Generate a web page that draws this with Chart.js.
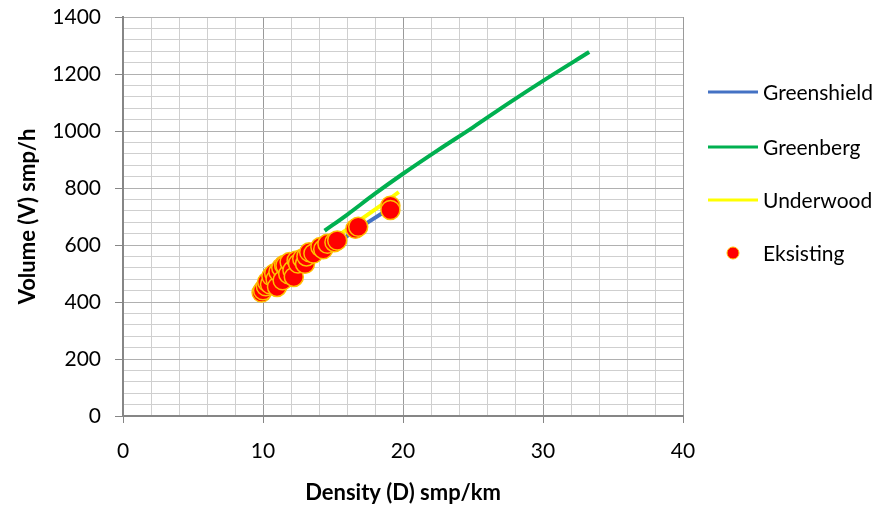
<!DOCTYPE html>
<html>
<head>
<meta charset="utf-8">
<script src="https://cdn.jsdelivr.net/npm/chart.js@4.4.0/dist/chart.umd.min.js"></script>
<style>
  body { margin: 0; background: #fff; }
  #wrap { width: 876px; height: 510px; }
</style>
</head>
<body>
<div id="wrap"><canvas id="grafico" width="876" height="510"></canvas></div>
<script>
// densidade (x) e volume (y)
const eksistingD = [9.9, 10.0, 10.2, 10.3, 10.5, 10.6, 10.8, 10.9, 11.0, 11.1, 11.3, 11.4, 11.5, 11.6, 11.8, 11.9, 12.1, 12.2, 12.4, 12.5, 12.8, 13.0, 13.1, 13.3, 13.6, 14.1, 14.3, 14.6, 15.1, 15.3, 16.6, 16.8, 19.1, 19.1];
const eksistingV = [433, 441, 455, 470, 462, 490, 500, 480, 453, 505, 520, 476, 530, 528, 498, 540, 511, 488, 546, 535, 552, 534, 560, 575, 570, 593, 585, 604, 610, 616, 657, 664, 738, 723];

const greenshieldD = [10, 12, 14, 16, 17.6, 19.1];
const greenshieldV = [432, 500, 566, 631, 683, 730];

const greenbergD = [14.4, 16, 18, 20, 22.5, 25, 27.5, 30, 33.3];
const greenbergV = [650, 706, 780, 850, 933, 1013, 1096, 1176, 1277];

const underwoodD = [10, 12, 14, 16, 17.2, 18.5, 19.7];
const underwoodV = [437, 512, 585, 655, 697, 742, 786];

const fonte = 'Lato, "Liberation Sans", sans-serif';

function pares(xs, ys) {
  return xs.map((x, i) => ({ x: x, y: ys[i] }));
}

// legenda desenhada a mao, do jeito do excel
const legendaExcel = {
  id: 'legendaExcel',
  afterDraw(chart) {
    const ctx = chart.ctx;
    const itens = [
      { nome: 'Greenshield', cor: '#4472C4', y: 92 },
      { nome: 'Greenberg', cor: '#00B050', y: 147 },
      { nome: 'Underwood', cor: '#FFFF00', y: 200 },
      { nome: 'Eksisting', cor: null, y: 253 }
    ];
    ctx.save();
    ctx.font = '21px ' + fonte;
    ctx.fillStyle = '#000';
    ctx.textBaseline = 'middle';
    itens.forEach(item => {
      if (item.cor) {
        ctx.strokeStyle = item.cor;
        ctx.lineWidth = 3;
        ctx.beginPath();
        ctx.moveTo(708, item.y);
        ctx.lineTo(758, item.y);
        ctx.stroke();
      } else {
        ctx.beginPath();
        ctx.arc(733, item.y, 6, 0, Math.PI * 2);
        ctx.fillStyle = '#FF0000';
        ctx.fill();
        ctx.strokeStyle = '#FFC000';
        ctx.lineWidth = 1;
        ctx.stroke();
        ctx.fillStyle = '#000';
      }
      ctx.fillText(item.nome, 763, item.y + 1);
    });
    ctx.restore();
  }
};

const grafico = new Chart(document.getElementById('grafico'), {
  type: 'scatter',
  data: {
    datasets: [
      {
        label: 'Eksisting',
        data: pares(eksistingD, eksistingV),
        backgroundColor: '#FF0000',
        borderColor: '#FFC000',
        borderWidth: 1.5,
        pointRadius: 9.5,
        order: 0
      },
      {
        label: 'Greenshield',
        data: pares(greenshieldD, greenshieldV),
        showLine: true,
        borderColor: '#4472C4',
        borderWidth: 4,
        pointRadius: 0,
        order: 3
      },
      {
        label: 'Greenberg',
        data: pares(greenbergD, greenbergV),
        showLine: true,
        borderColor: '#00B050',
        borderWidth: 4,
        pointRadius: 0,
        cubicInterpolationMode: 'monotone',
        order: 1
      },
      {
        label: 'Underwood',
        data: pares(underwoodD, underwoodV),
        showLine: true,
        borderColor: '#FFFF00',
        borderWidth: 4,
        pointRadius: 0,
        order: 2
      }
    ]
  },
  options: {
    responsive: false,
    animation: false,
    layout: { padding: { left: 0, right: 193, top: 17, bottom: 0 } },
    plugins: {
      legend: { display: false },
      tooltip: { enabled: false }
    },
    scales: {
      x: {
        type: 'linear',
        min: 0,
        max: 40,
        afterFit(scale) {
          scale.height = 94;
          scale.paddingLeft = 0;
          scale.paddingRight = 0;
        },
        border: { color: '#868686', width: 2 },
        grid: {
          color: c => (c.tick && c.tick.value % 10 === 0) ? '#9a9a9a' : '#cfcfcf',
          tickColor: c => (c.tick && c.tick.value % 10 === 0) ? '#868686' : 'rgba(0,0,0,0)',
          tickLength: 7
        },
        ticks: {
          stepSize: 2,
          autoSkip: false,
          maxRotation: 0,
          padding: 16,
          color: '#000',
          font: { family: fonte, size: 21 },
          callback: v => v % 10 === 0 ? v : ''
        },
        title: {
          display: true,
          text: 'Density (D) smp/km',
          color: '#000',
          font: { family: fonte, size: 22, weight: 'bold' },
          padding: { top: 0, bottom: 4 }
        }
      },
      y: {
        min: 0,
        max: 1400,
        afterFit(scale) {
          scale.width = 123;
          scale.paddingTop = 0;
          scale.paddingBottom = 0;
        },
        border: { color: '#868686', width: 2 },
        grid: {
          color: c => (c.tick && c.tick.value % 200 === 0) ? '#b0b0b0' : '#cfcfcf',
          tickColor: c => (c.tick && c.tick.value % 200 === 0) ? '#868686' : 'rgba(0,0,0,0)',
          tickLength: 8
        },
        ticks: {
          stepSize: 40,
          autoSkip: false,
          padding: 14,
          color: '#000',
          font: { family: fonte, size: 21 },
          callback: v => v % 200 === 0 ? v : ''
        },
        title: {
          display: true,
          text: 'Volume (V) smp/h',
          color: '#000',
          font: { family: fonte, size: 22, weight: 'bold' },
          padding: { top: 15, bottom: 0 }
        }
      }
    }
  },
  plugins: [legendaExcel]
});
</script>
</body>
</html>
